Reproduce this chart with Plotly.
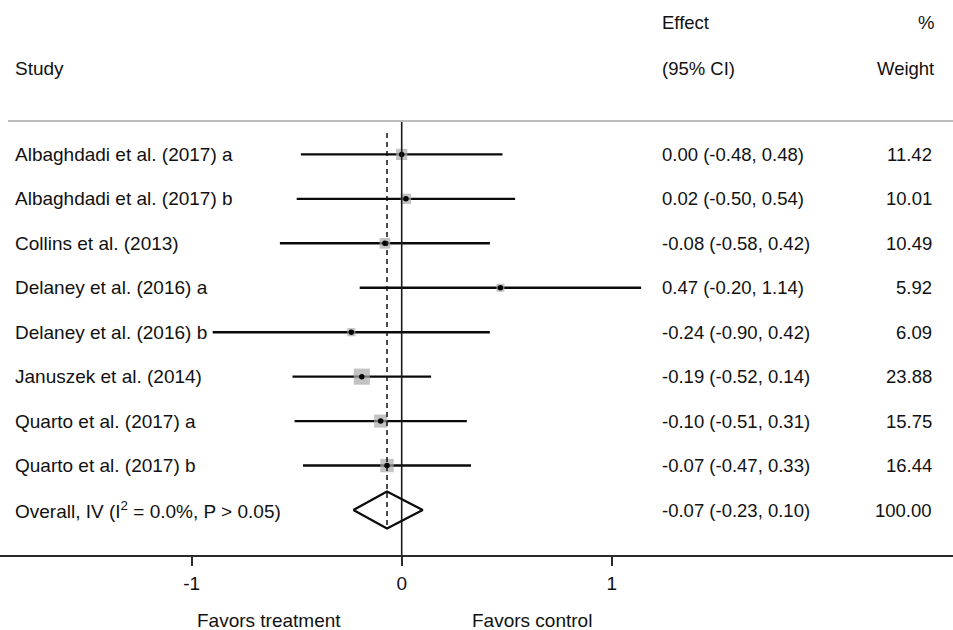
import plotly.graph_objects as go
import numpy as np

studies = [
    "Albaghdadi et al. (2017) a",
    "Albaghdadi et al. (2017) b",
    "Collins et al. (2013)",
    "Delaney et al. (2016) a",
    "Delaney et al. (2016) b",
    "Januszek et al. (2014)",
    "Quarto et al. (2017) a",
    "Quarto et al. (2017) b",
]
effect = [0.00, 0.02, -0.08, 0.47, -0.24, -0.19, -0.10, -0.07]
ci_low = [-0.48, -0.50, -0.58, -0.20, -0.90, -0.52, -0.51, -0.47]
ci_high = [0.48, 0.54, 0.42, 1.14, 0.42, 0.14, 0.31, 0.33]
weight = [11.42, 10.01, 10.49, 5.92, 6.09, 23.88, 15.75, 16.44]

overall_label = "Overall, IV (I<sup>2</sup> = 0.0%, P > 0.05)"
overall_effect = -0.07
overall_low = -0.23
overall_high = 0.10
overall_weight = 100.00

tick_vals = [-1, 0, 1]
tick_text = ["-1", "0", "1"]

W, H = 953, 630
FONT = "Liberation Sans, Arial, sans-serif"
TXT = "#111111"

rows = list(range(1, len(studies) + 1))
overall_row = len(studies) + 1

# pixel geometry helpers
x0_px, px_per_unit = 401.7, 210.0
row1_px, row_step = 154.4, 44.45
axis_px = 555.0


def row_of(py):
    return 1 + (py - row1_px) / row_step


x_range = [-x0_px / px_per_unit, (W - x0_px) / px_per_unit]
y_range = [row_of(axis_px), row_of(0)]
dom_bottom = (H - axis_px) / H

fig = go.Figure()

# CI lines
for r, lo, hi in zip(rows, ci_low, ci_high):
    fig.add_trace(go.Scatter(x=[lo, hi], y=[r, r], mode="lines",
                             line=dict(color="#0a0a0a", width=2.4),
                             hoverinfo="skip", showlegend=False))

# weight squares
fig.add_trace(go.Scatter(x=effect, y=rows, mode="markers",
                         marker=dict(symbol="square", color="#aaaaaa",
                                     size=[3.3 * np.sqrt(w) for w in weight],
                                     line=dict(width=0)),
                         hoverinfo="skip", showlegend=False))
# center dots
fig.add_trace(go.Scatter(x=effect, y=rows, mode="markers",
                         marker=dict(symbol="circle", color="#000000", size=5.5),
                         hoverinfo="skip", showlegend=False))

# solid null line at 0
fig.add_trace(go.Scatter(x=[0, 0], y=[row_of(121), row_of(axis_px)], mode="lines",
                         line=dict(color="#1a1a1a", width=1.6),
                         hoverinfo="skip", showlegend=False))

# dashed overall line
dh = 0.416
fig.add_trace(go.Scatter(x=[overall_effect, overall_effect],
                         y=[row_of(133), overall_row + dh], mode="lines",
                         line=dict(color="#111111", width=1.5, dash="5px,4px"),
                         hoverinfo="skip", showlegend=False))

# diamond
fig.add_trace(go.Scatter(
    x=[overall_low, overall_effect, overall_high, overall_effect, overall_low],
    y=[overall_row, overall_row - dh, overall_row, overall_row + dh, overall_row],
    mode="lines", line=dict(color="#0a0a0a", width=2.3),
    hoverinfo="skip", showlegend=False))

# top separator line
fig.add_shape(type="line", xref="paper", yref="y", x0=8 / W, x1=1,
              y0=row_of(121), y1=row_of(121),
              line=dict(color="#bdbdbd", width=2))

ann = []


def text(x, y, s, anchor="left", size=19, xref="paper"):
    ann.append(dict(x=x, y=y, xref=xref, yref="y", text=s, showarrow=False,
                    xanchor=anchor, yanchor="middle",
                    font=dict(family=FONT, size=size, color=TXT)))


# headers
text(13 / W, row_of(68), "Study")
text(660 / W, row_of(22), "Effect", size=18.5)
text(660 / W, row_of(68), "(95% CI)", size=18.5)
text(936 / W, row_of(22), "%", anchor="right", size=18.5)
text(936 / W, row_of(68), "Weight", anchor="right", size=18.5)

for r, s, e, lo, hi, w in zip(rows, studies, effect, ci_low, ci_high, weight):
    text(13 / W, r, s)
    text(660 / W, r, f"{e:.2f} ({lo:.2f}, {hi:.2f})", size=18.5)
    text(934 / W, r, f"{w:.2f}", anchor="right", size=18.5)

text(13 / W, overall_row, overall_label)
text(660 / W, overall_row,
     f"{overall_effect:.2f} ({overall_low:.2f}, {overall_high:.2f})", size=18.5)
text(934 / W, overall_row, f"{overall_weight:.2f}", anchor="right", size=18.5)

# favors labels (below axis, paper coords)
for xv, s in [(-0.634, "Favors treatment"), (0.622, "Favors control")]:
    ann.append(dict(x=xv, y=(H - 620) / H, xref="x", yref="paper", text=s,
                    showarrow=False, xanchor="center", yanchor="middle",
                    font=dict(family=FONT, size=19, color=TXT)))

fig.update_layout(
    width=W, height=H,
    margin=dict(l=0, r=0, t=0, b=0),
    paper_bgcolor="white", plot_bgcolor="white",
    annotations=ann,
    xaxis=dict(range=x_range, showgrid=False, zeroline=False,
               showline=True, linecolor="#2a2a2a", linewidth=2,
               ticks="outside", ticklen=9, tickwidth=1.5, tickcolor="#2a2a2a",
               tickvals=tick_vals, ticktext=tick_text,
               tickfont=dict(family=FONT, size=19, color=TXT),
               ticklabelstandoff=1,
               fixedrange=True),
    yaxis=dict(range=y_range, domain=[dom_bottom, 1], showgrid=False,
               zeroline=False, showline=False, showticklabels=False,
               ticks="", fixedrange=True),
)

fig.write_html("out.html", post_script="document.body.style.margin='0';",
               config={"displayModeBar": False})
